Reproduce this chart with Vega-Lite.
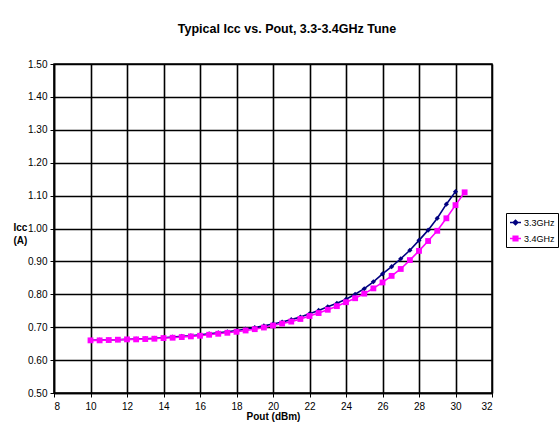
{
  "$schema": "https://vega.github.io/schema/vega-lite/v6.json",
  "autosize": {"type": "none"},
  "width": 438,
  "height": 329,
  "padding": {"left": 54, "top": 64, "right": 68, "bottom": 49},
  "background": "white",
  "title": {
    "text": "Typical Icc vs. Pout, 3.3-3.4GHz Tune",
    "font": "Liberation Sans",
    "fontSize": 12.5,
    "fontWeight": "bold",
    "color": "#000000",
    "anchor": "middle",
    "frame": "group",
    "baseline": "alphabetic",
    "offset": 34,
    "dy": 20,
    "dx": 14
  },
  "config": {
    "view": {"stroke": "#000000", "strokeWidth": 1.5},
    "font": "Liberation Sans",
    "axis": {
      "labelFont": "Liberation Sans",
      "labelFontSize": 10,
      "labelColor": "#000000",
      "titleFont": "Liberation Sans",
      "titleFontSize": 10,
      "titleFontWeight": "bold",
      "titleColor": "#000000",
      "domainColor": "#000000",
      "domainWidth": 1.5,
      "tickColor": "#000000",
      "tickSize": 4,
      "tickWidth": 1,
      "grid": true,
      "gridColor": "#000000",
      "gridWidth": 1.6,
      "gridOpacity": 1
    }
  },
  "data": {
    "values": [
      {"series": "3.3GHz", "pout": 10, "icc": 0.660},
      {"series": "3.3GHz", "pout": 10.5, "icc": 0.661},
      {"series": "3.3GHz", "pout": 11, "icc": 0.661},
      {"series": "3.3GHz", "pout": 11.5, "icc": 0.662},
      {"series": "3.3GHz", "pout": 12, "icc": 0.663},
      {"series": "3.3GHz", "pout": 12.5, "icc": 0.664},
      {"series": "3.3GHz", "pout": 13, "icc": 0.665},
      {"series": "3.3GHz", "pout": 13.5, "icc": 0.666},
      {"series": "3.3GHz", "pout": 14, "icc": 0.668},
      {"series": "3.3GHz", "pout": 14.5, "icc": 0.670},
      {"series": "3.3GHz", "pout": 15, "icc": 0.672},
      {"series": "3.3GHz", "pout": 15.5, "icc": 0.674},
      {"series": "3.3GHz", "pout": 16, "icc": 0.677},
      {"series": "3.3GHz", "pout": 16.5, "icc": 0.680},
      {"series": "3.3GHz", "pout": 17, "icc": 0.683},
      {"series": "3.3GHz", "pout": 17.5, "icc": 0.686},
      {"series": "3.3GHz", "pout": 18, "icc": 0.690},
      {"series": "3.3GHz", "pout": 18.5, "icc": 0.694},
      {"series": "3.3GHz", "pout": 19, "icc": 0.699},
      {"series": "3.3GHz", "pout": 19.5, "icc": 0.704},
      {"series": "3.3GHz", "pout": 20, "icc": 0.710},
      {"series": "3.3GHz", "pout": 20.5, "icc": 0.716},
      {"series": "3.3GHz", "pout": 21, "icc": 0.723},
      {"series": "3.3GHz", "pout": 21.5, "icc": 0.731},
      {"series": "3.3GHz", "pout": 22, "icc": 0.741},
      {"series": "3.3GHz", "pout": 22.5, "icc": 0.751},
      {"series": "3.3GHz", "pout": 23, "icc": 0.762},
      {"series": "3.3GHz", "pout": 23.5, "icc": 0.773},
      {"series": "3.3GHz", "pout": 24, "icc": 0.785},
      {"series": "3.3GHz", "pout": 24.5, "icc": 0.800},
      {"series": "3.3GHz", "pout": 25, "icc": 0.817},
      {"series": "3.3GHz", "pout": 25.5, "icc": 0.838},
      {"series": "3.3GHz", "pout": 26, "icc": 0.862},
      {"series": "3.3GHz", "pout": 26.5, "icc": 0.884},
      {"series": "3.3GHz", "pout": 27, "icc": 0.908},
      {"series": "3.3GHz", "pout": 27.5, "icc": 0.934},
      {"series": "3.3GHz", "pout": 28, "icc": 0.964},
      {"series": "3.3GHz", "pout": 28.5, "icc": 0.995},
      {"series": "3.3GHz", "pout": 29, "icc": 1.031},
      {"series": "3.3GHz", "pout": 29.5, "icc": 1.074},
      {"series": "3.3GHz", "pout": 30, "icc": 1.112},
      {"series": "3.4GHz", "pout": 10, "icc": 0.660},
      {"series": "3.4GHz", "pout": 10.5, "icc": 0.660},
      {"series": "3.4GHz", "pout": 11, "icc": 0.661},
      {"series": "3.4GHz", "pout": 11.5, "icc": 0.662},
      {"series": "3.4GHz", "pout": 12, "icc": 0.663},
      {"series": "3.4GHz", "pout": 12.5, "icc": 0.663},
      {"series": "3.4GHz", "pout": 13, "icc": 0.664},
      {"series": "3.4GHz", "pout": 13.5, "icc": 0.665},
      {"series": "3.4GHz", "pout": 14, "icc": 0.667},
      {"series": "3.4GHz", "pout": 14.5, "icc": 0.668},
      {"series": "3.4GHz", "pout": 15, "icc": 0.670},
      {"series": "3.4GHz", "pout": 15.5, "icc": 0.672},
      {"series": "3.4GHz", "pout": 16, "icc": 0.674},
      {"series": "3.4GHz", "pout": 16.5, "icc": 0.677},
      {"series": "3.4GHz", "pout": 17, "icc": 0.680},
      {"series": "3.4GHz", "pout": 17.5, "icc": 0.683},
      {"series": "3.4GHz", "pout": 18, "icc": 0.686},
      {"series": "3.4GHz", "pout": 18.5, "icc": 0.690},
      {"series": "3.4GHz", "pout": 19, "icc": 0.694},
      {"series": "3.4GHz", "pout": 19.5, "icc": 0.699},
      {"series": "3.4GHz", "pout": 20, "icc": 0.705},
      {"series": "3.4GHz", "pout": 20.5, "icc": 0.711},
      {"series": "3.4GHz", "pout": 21, "icc": 0.717},
      {"series": "3.4GHz", "pout": 21.5, "icc": 0.725},
      {"series": "3.4GHz", "pout": 22, "icc": 0.734},
      {"series": "3.4GHz", "pout": 22.5, "icc": 0.743},
      {"series": "3.4GHz", "pout": 23, "icc": 0.753},
      {"series": "3.4GHz", "pout": 23.5, "icc": 0.764},
      {"series": "3.4GHz", "pout": 24, "icc": 0.776},
      {"series": "3.4GHz", "pout": 24.5, "icc": 0.788},
      {"series": "3.4GHz", "pout": 25, "icc": 0.802},
      {"series": "3.4GHz", "pout": 25.5, "icc": 0.818},
      {"series": "3.4GHz", "pout": 26, "icc": 0.836},
      {"series": "3.4GHz", "pout": 26.5, "icc": 0.856},
      {"series": "3.4GHz", "pout": 27, "icc": 0.877},
      {"series": "3.4GHz", "pout": 27.5, "icc": 0.904},
      {"series": "3.4GHz", "pout": 28, "icc": 0.932},
      {"series": "3.4GHz", "pout": 28.5, "icc": 0.962},
      {"series": "3.4GHz", "pout": 29, "icc": 0.993},
      {"series": "3.4GHz", "pout": 29.5, "icc": 1.031},
      {"series": "3.4GHz", "pout": 30, "icc": 1.071},
      {"series": "3.4GHz", "pout": 30.5, "icc": 1.110}
    ]
  },
  "encoding": {
    "x": {
      "field": "pout",
      "type": "quantitative",
      "scale": {"domain": [8, 32], "nice": false, "zero": false},
      "axis": {
        "values": [8, 10, 12, 14, 16, 18, 20, 22, 24, 26, 28, 30, 32],
        "title": "Pout (dBm)",
        "labelPadding": 4,
        "titleY": 23,
        "titleBaseline": "middle"
      }
    },
    "y": {
      "field": "icc",
      "type": "quantitative",
      "scale": {"domain": [0.5, 1.5], "nice": false, "zero": false},
      "axis": {
        "values": [0.5, 0.6, 0.7, 0.8, 0.9, 1.0, 1.1, 1.2, 1.3, 1.4, 1.5],
        "format": ".2f",
        "labelPadding": 3,
        "title": ["Icc", "(A)"],
        "titleAngle": 0,
        "titleAlign": "left",
        "titleBaseline": "middle",
        "titleX": -41,
        "titleY": 163,
        "titleLineHeight": 13
      }
    }
  },
  "layer": [
    {
      "mark": {"type": "line", "strokeWidth": 1.6},
      "encoding": {
        "color": {
          "field": "series",
          "type": "nominal",
          "scale": {"domain": ["3.3GHz", "3.4GHz"], "range": ["#000080", "#FF00FF"]},
          "legend": {
            "title": null,
            "orient": "none",
            "legendX": 452,
            "legendY": 149,
            "strokeColor": "#000000",
            "fillColor": "#FFFFFF",
            "padding": 3,
            "rowPadding": 4,
            "symbolSize": 121,
            "symbolStrokeWidth": 1.5,
            "labelFont": "Liberation Sans",
            "labelFontSize": 9,
            "labelColor": "#000000",
            "labelOffset": 2,
            "encode": {
              "symbols": {
                "update": {
                  "shape": {"signal": "datum.value === '3.3GHz' ? 'M-1,0H1M0,-0.42L0.42,0L0,0.42L-0.42,0Z' : 'M-1,0H1M-0.42,-0.42H0.42V0.42H-0.42Z'"},
                  "fill": {"scale": "color", "field": "value"},
                  "stroke": {"scale": "color", "field": "value"},
                  "strokeWidth": {"value": 1.5},
                  "strokeOpacity": {"value": 1},
                  "opacity": {"value": 1}
                }
              }
            }
          }
        }
      }
    },
    {
      "transform": [{"filter": "datum.series === '3.3GHz'"}],
      "mark": {"type": "point", "filled": true, "opacity": 1, "shape": "diamond", "size": 26, "color": "#000080"},
      "encoding": {}
    },
    {
      "transform": [{"filter": "datum.series === '3.4GHz'"}],
      "mark": {"type": "point", "filled": true, "opacity": 1, "shape": "square", "size": 34, "color": "#FF00FF"},
      "encoding": {}
    }
  ]
}
